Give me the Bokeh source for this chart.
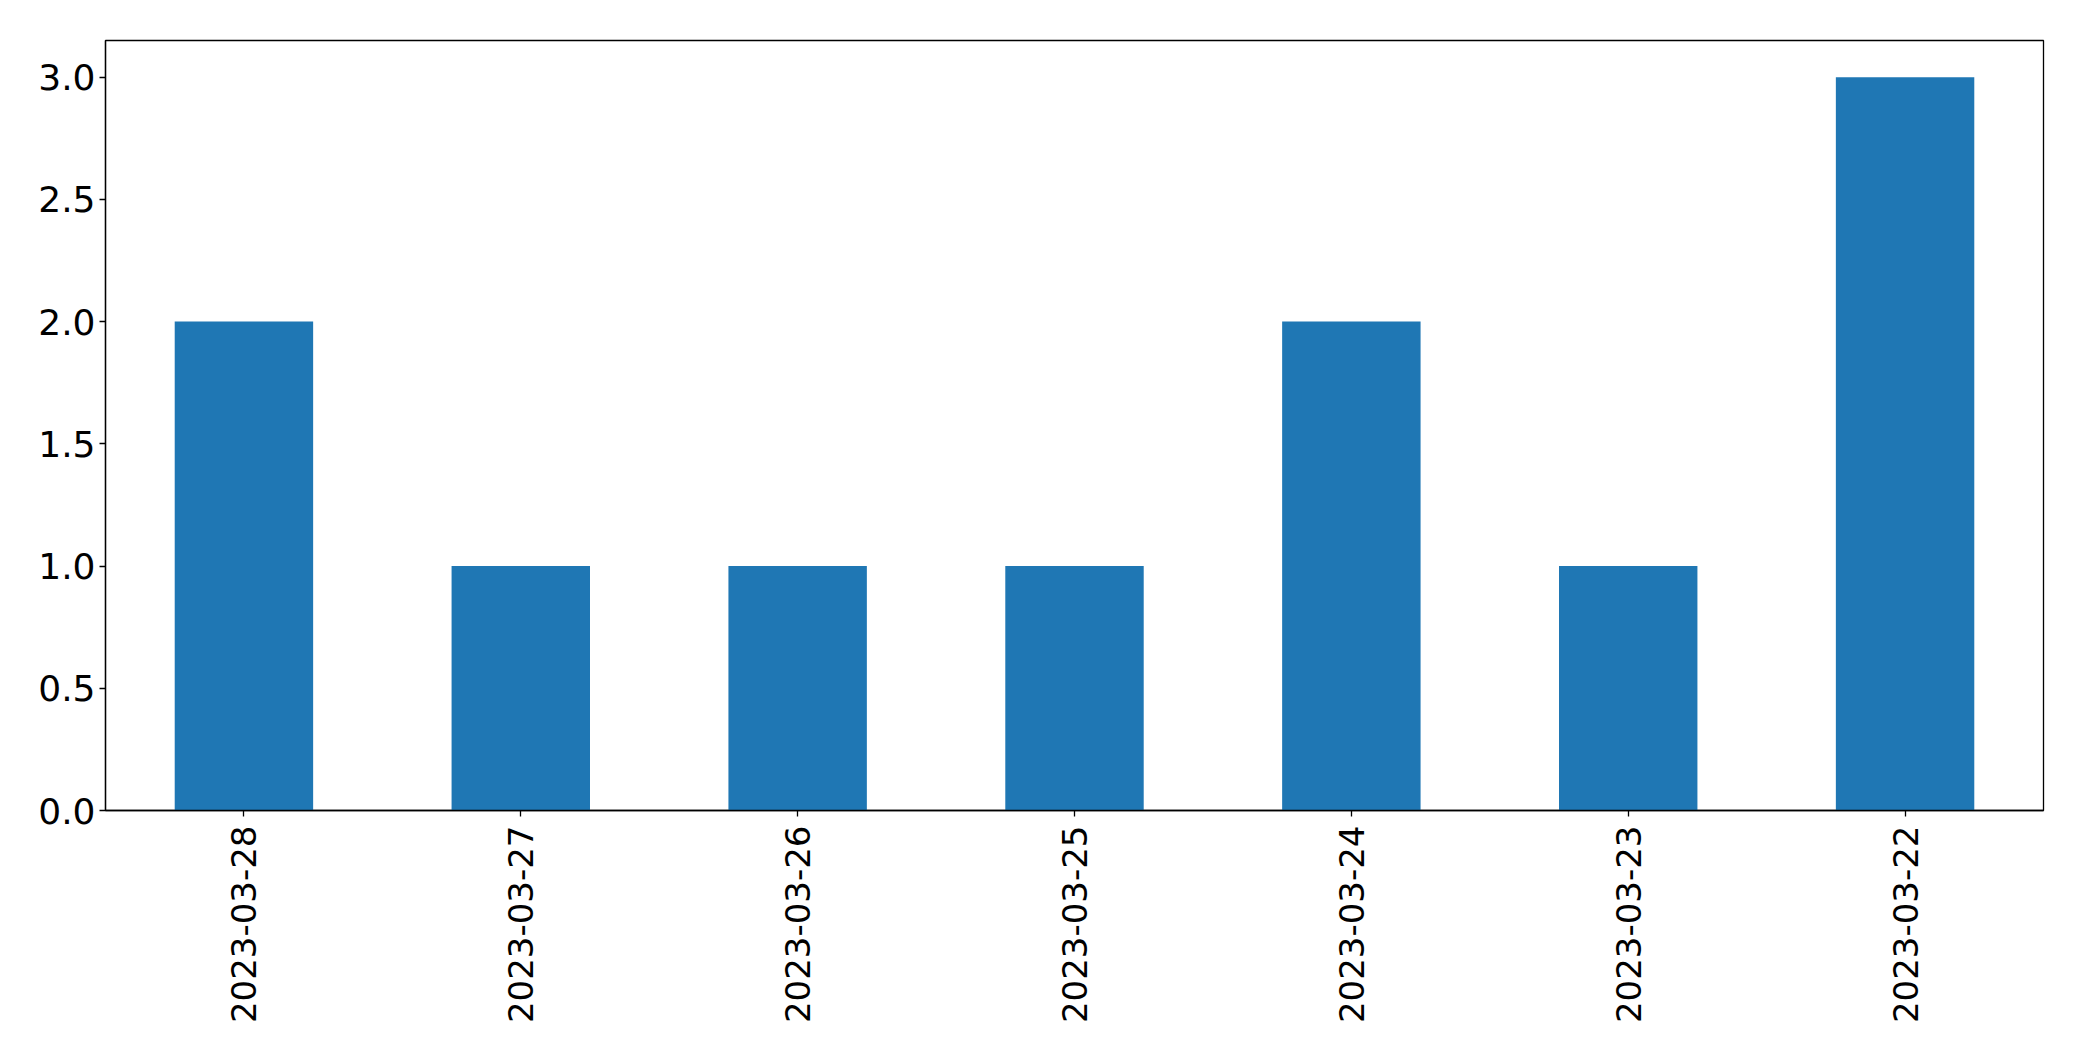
import math
from bokeh.plotting import figure
from bokeh.models import FactorRange, Range1d, FixedTicker, PrintfTickFormatter, ColumnDataSource
from bokeh.embed import file_html
from bokeh.resources import INLINE

dates = ["2023-03-28", "2023-03-27", "2023-03-26", "2023-03-25",
         "2023-03-24", "2023-03-23", "2023-03-22"]
counts = [2, 1, 1, 1, 2, 1, 3]
y_ticks = [0.0, 0.5, 1.0, 1.5, 2.0, 2.5, 3.0]

src = ColumnDataSource(data=dict(dates=dates, counts=counts))

xr = FactorRange(factors=dates, range_padding=0)
p = figure(x_range=xr, y_range=Range1d(0, 3.15),
           frame_width=1938, frame_height=770,
           output_backend="svg", toolbar_location=None,
           min_border_left=105, min_border_right=20,
           min_border_top=40, min_border_bottom=200,
           background_fill_color="white", border_fill_color="white")

p.vbar(x="dates", top="counts", width=0.5, source=src,
       fill_color="#1f77b4", line_color=None)

p.xgrid.visible = False
p.ygrid.visible = False
p.outline_line_color = "black"
p.outline_line_width = 1.3
p.outline_line_alpha = 1.0

for ax in (p.xaxis, p.yaxis):
    ax.axis_line_color = "black"
    ax.axis_line_width = 1.3
    ax.major_tick_line_color = "black"
    ax.major_tick_line_width = 1.3
    ax.major_tick_out = 6
    ax.major_tick_in = 0
    ax.minor_tick_line_color = None
    ax.major_label_text_font = "DejaVu Sans"
    ax.major_label_text_color = "black"

p.yaxis.major_label_text_font_size = "36px"
p.xaxis.major_label_text_font_size = "34px"
p.yaxis.ticker = FixedTicker(ticks=y_ticks)
p.yaxis.formatter = PrintfTickFormatter(format="%.1f")
p.yaxis.major_label_standoff = 4
p.xaxis.major_label_orientation = math.pi / 2
p.xaxis.major_label_standoff = 9

open("out.html", "w").write(file_html(p, INLINE))
